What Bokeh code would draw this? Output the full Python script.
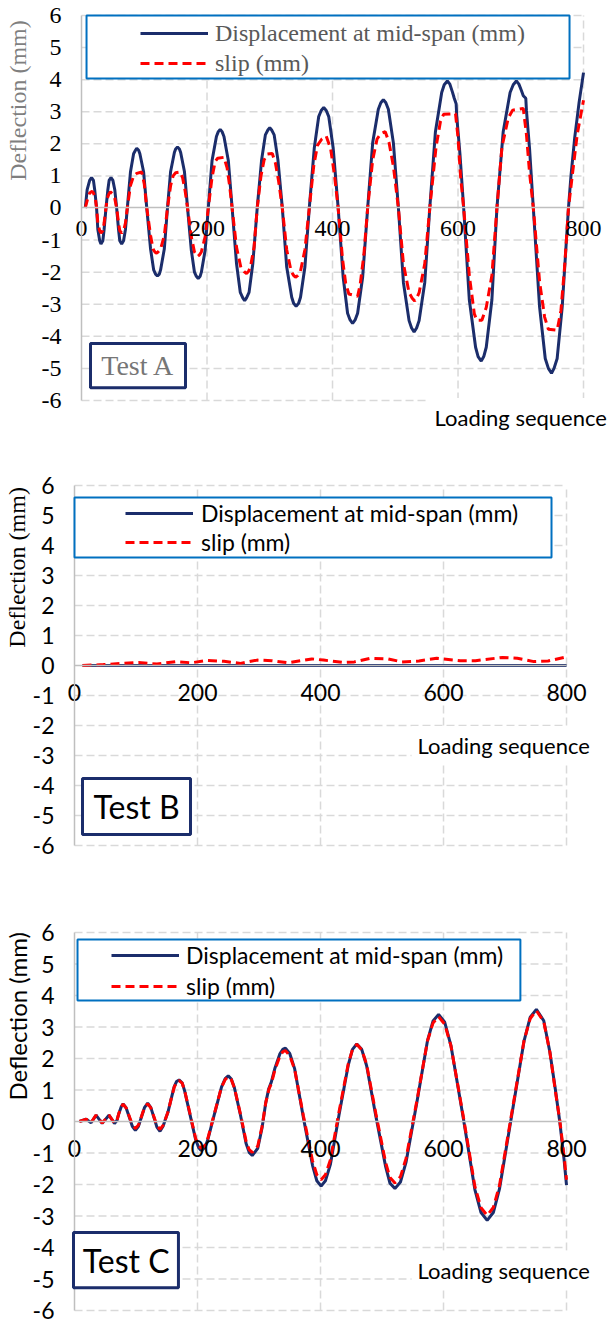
from math import pi
from bokeh.plotting import figure
from bokeh.models import Range1d, FixedTicker, Legend, LegendItem, Label, BoxAnnotation
from bokeh.layouts import column
from bokeh.embed import file_html
from bokeh.resources import INLINE

# ---------------- data ----------------
X_TICKS = [0, 200, 400, 600, 800]
X_TICK_LABELS = ["0", "200", "400", "600", "800"]
Y_TICKS = [-6, -5, -4, -3, -2, -1, 0, 1, 2, 3, 4, 5, 6]
Y_TICK_LABELS = ["-6", "-5", "-4", "-3", "-2", "-1", "0", "1", "2", "3", "4", "5", "6"]
SERIES = ["Displacement at mid-span (mm)", "slip (mm)"]
X_TITLE = "Loading sequence"
Y_TITLE = "Deflection (mm)"
PANELS = ["Test A", "Test B", "Test C"]

# Test A
a_disp_x = [6, 9, 13, 16, 19, 21, 24, 26, 29, 31, 34, 36, 39, 42, 44, 47, 50, 53,
            56, 59, 61, 64, 67, 70,
            73, 78, 83, 86, 88, 91, 93, 99,
            104, 110, 115, 118, 121, 124, 126, 132,
            137, 142, 148, 150, 153, 156, 158, 164,
            169, 175, 180, 183, 186, 189, 191, 197,
            202, 208, 215, 218, 221, 224, 227, 234,
            240, 247, 253, 257, 260, 263, 267, 273,
            280, 287, 293, 297, 300, 303, 307, 313,
            320, 327, 335, 338, 342, 346, 349, 356,
            363, 371, 378, 382, 386, 390, 394, 401,
            409, 417, 424, 428, 432, 436, 440, 448,
            456, 464, 473, 477, 481, 485, 489, 497,
            505, 513, 522, 526, 530, 534, 538, 547,
            555, 564, 574, 578, 583, 587, 591, 594, 597, 598, 603,
            609, 618, 628, 632, 637, 641, 645, 654,
            662, 672, 683, 688, 693, 697, 701, 704, 708, 709, 714,
            720, 730, 739, 744, 749, 753, 758, 766,
            776, 780, 786, 793, 800]
a_disp_y = [0, .57, .86, .95, .86, .57, 0, -.67, -1.02, -1.12, -1.02, -.67, 0, .57, .86, .95, .86, .57,
            0, -.67, -1.02, -1.12, -1.02, -.67,
            0, 1.12, 1.69, 1.8, 1.86, 1.8, 1.69, 1.12,
            0, -1.27, -1.93, -2.06, -2.12, -2.06, -1.93, -1.27,
            0, 1.14, 1.73, 1.84, 1.9, 1.84, 1.73, 1.14,
            0, -1.32, -2.0, -2.13, -2.2, -2.13, -2.0, -1.32,
            0, 1.47, 2.23, 2.38, 2.45, 2.38, 2.23, 1.47,
            0, -1.73, -2.63, -2.8, -2.89, -2.8, -2.63, -1.73,
            0, 1.5, 2.28, 2.43, 2.5, 2.43, 2.28, 1.5,
            0, -1.84, -2.78, -2.97, -3.06, -2.97, -2.78, -1.84,
            0, 1.88, 2.85, 3.04, 3.13, 3.04, 2.85, 1.88,
            0, -2.16, -3.28, -3.49, -3.6, -3.49, -3.28, -2.16,
            0, 2.03, 3.08, 3.28, 3.38, 3.28, 3.08, 2.03,
            0, -2.32, -3.51, -3.74, -3.86, -3.74, -3.51, -2.32,
            0, 2.38, 3.6, 3.84, 3.96, 3.86, 3.62, 3.42, 3.25, 2.85, 1.7,
            0, -2.86, -4.34, -4.63, -4.77, -4.63, -4.34, -2.86,
            0, 2.38, 3.6, 3.84, 3.96, 3.86, 3.66, 3.5, 3.42, 3.05, 1.85,
            0, -3.09, -4.69, -5.0, -5.15, -5.0, -4.69, -3.09,
            0, 1.0, 2.2, 3.3, 4.22]
a_slip_x = [6, 10, 13, 17, 19, 22, 24, 26, 29, 31, 34, 36, 39, 41, 44, 46, 49, 53,
            56, 59, 61, 64, 67, 70, 73, 78, 83, 88, 96, 100,
            104, 110, 114, 117, 119, 122, 126, 132,
            137, 142, 146, 150, 157, 161, 165,
            169, 175, 180, 183, 185, 188, 191, 197,
            202, 208, 213, 217, 227, 232, 236,
            240, 247, 254, 259, 263, 266, 269, 275,
            280, 286, 291, 296, 304, 309, 314,
            320, 327, 334, 338, 341, 345, 349, 356,
            363, 370, 376, 383, 390, 397, 403, 409, 416, 421, 426, 440, 444, 450,
            456, 464, 471, 477, 484, 490, 497,
            505, 513, 522, 527, 531, 534, 538, 547,
            555, 565, 572, 577, 596, 600, 604, 609, 618, 626, 630, 638, 645, 654,
            662, 670, 680, 687, 704, 709, 714, 720, 730, 738, 744, 758, 764, 770,
            776, 782, 790, 800]
a_slip_y = [0, .31, .47, .52, .47, .31, 0, -.47, -.71, -.78, -.71, -.47, 0, .3, .45, .5, .45, .3,
            0, -.47, -.71, -.78, -.71, -.47, 0, .7, 1.0, 1.08, 1.12, .75,
            0, -.85, -1.28, -1.37, -1.41, -1.37, -1.28, -.85,
            0, .7, 1.0, 1.1, 1.12, .95, .55,
            0, -.9, -1.37, -1.46, -1.51, -1.46, -1.37, -.9,
            0, .95, 1.45, 1.55, 1.58, 1.25, .7,
            0, -1.22, -1.86, -1.98, -2.04, -1.98, -1.86, -1.22,
            0, 1.0, 1.5, 1.68, 1.7, 1.4, .85,
            0, -1.3, -1.97, -2.1, -2.16, -2.1, -1.97, -1.3,
            0, 1.3, 1.95, 2.15, 2.24, 1.85, 1.05, 0, -1.6, -2.35, -2.68, -2.75, -2.4, -1.45,
            0, 1.5, 2.15, 2.32, 2.38, 2.05, 1.3,
            0, -1.74, -2.64, -2.81, -2.9, -2.81, -2.64, -1.74,
            0, 1.9, 2.7, 2.92, 2.94, 2.2, 1.0, 0, -2.1, -3.3, -3.5, -3.5, -3.1, -2.1,
            0, 1.9, 2.8, 3.05, 3.1, 2.3, 1.1, 0, -2.3, -3.4, -3.78, -3.81, -3.2, -1.8,
            0, 1.0, 2.3, 3.36]

# Test B
b_disp_x = [13, 800]
b_disp_y = [0.0, 0.0]
b_slip_x = [13, 47, 77, 104, 134, 165, 190, 216, 243, 270, 297, 321, 348, 386, 405,
            437, 455, 481, 510, 532, 560, 589, 627, 652, 696, 720, 747, 770, 800]
b_slip_y = [0, 0.03, 0.07, 0.1, 0.05, 0.13, 0.09, 0.17, 0.14, 0.07, 0.18, 0.16, 0.09, 0.22, 0.18,
            0.1, 0.12, 0.24, 0.22, 0.12, 0.15, 0.24, 0.16, 0.16, 0.27, 0.24, 0.13, 0.15, 0.29]

# Test C
c_x = [8, 19, 27, 35, 45, 56, 65, 69, 72, 76, 79, 84, 89, 94, 99, 104, 109, 114, 119,
       124, 129, 134, 139, 144, 148, 152, 157, 162, 166, 170,
       175, 179, 188, 197, 202, 206, 212, 217, 228, 239, 245, 250,
       255, 260, 270, 279, 284, 289, 298, 305, 311, 316, 320, 326, 334, 339, 343,
       350, 358, 372, 387, 394, 401, 408, 416, 430, 445, 452, 459,
       467, 475, 490, 506, 513, 521, 530, 539, 557, 574, 583, 592,
       602, 612, 632, 651, 661, 671, 681, 691, 711, 731, 741, 751,
       763, 773, 782, 789, 796, 800]
c_disp_y = [0, 0.07, -0.04, 0.2, -0.06, 0.2, -0.06, 0.03, 0.25, 0.47, 0.56, 0.43, 0.14, -0.15, -0.28,
            -0.15, 0.15, 0.45, 0.58, 0.45, 0.14, -0.18, -0.31,
            -0.15, 0.08, 0.3, 0.7, 1.1, 1.27, 1.32,
            1.23, 0.98, 0.2, -0.58, -0.83, -0.92, -0.83, -0.56, 0.27, 1.09, 1.36, 1.45,
            1.35, 1.07, 0.19, -0.7, -0.98, -1.08, -0.85, -0.2, 0.6, 1.05, 1.25, 1.7, 2.15, 2.3, 2.33,
            2.16, 1.67, 0.14, -1.39, -1.88, -2.05, -1.88, -1.37, 0.2, 1.78, 2.29, 2.46,
            2.29, 1.77, 0.17, -1.44, -1.96, -2.13, -1.92, -1.3, 0.64, 2.57, 3.19, 3.4,
            3.15, 2.42, 0.13, -2.16, -2.89, -3.14, -2.89, -2.14, 0.21, 2.56, 3.31, 3.56,
            3.2, 2.2, 1.0, 0, -1.2, -2.02]
c_slip_y = [0, 0.07, -0.03, 0.2, -0.05, 0.2, -0.05, 0.04, 0.25, 0.46, 0.55, 0.43, 0.17, -0.1, -0.22,
            -0.11, 0.17, 0.45, 0.56, 0.44, 0.16, -0.13, -0.25,
            -0.12, 0.09, 0.3, 0.7, 1.08, 1.25, 1.3,
            1.22, 0.99, 0.23, -0.54, -0.77, -0.85, -0.76, -0.52, 0.29, 1.09, 1.33, 1.42,
            1.33, 1.07, 0.22, -0.63, -0.89, -0.98, -0.78, -0.15, 0.6, 1.02, 1.2, 1.65, 2.08, 2.22, 2.25,
            2.09, 1.65, 0.2, -1.25, -1.69, -1.85, -1.69, -1.22, 0.3, 1.82, 2.29, 2.45,
            2.28, 1.81, 0.25, -1.31, -1.78, -1.95, -1.75, -1.18, 0.69, 2.56, 3.13, 3.33,
            3.09, 2.41, 0.18, -2.06, -2.74, -2.98, -2.73, -2.03, 0.27, 2.57, 3.27, 3.52,
            3.17, 2.2, 0.95, 0.05, -1.1, -1.85]

# ---------------- style ----------------
NAVY = "#1B2D6B"
RED = "#FF0000"
LEG_BLUE = "#0070C0"
GRID = "#d9d9d9"
AXIS = "#bfbfbf"
SERIF = "Liberation Serif"
SANS = "Lato"
W = 609


def base_fig(height, xr, yr, font, size, xstand, ystand):
    p = figure(width=W, height=height, x_range=Range1d(*xr), y_range=Range1d(*yr),
               output_backend="svg", toolbar_location=None,
               min_border_left=0, min_border_right=0, min_border_top=0, min_border_bottom=0)
    p.outline_line_color = None
    p.background_fill_color = "white"
    p.border_fill_color = "white"
    p.grid.visible = False
    # dashed grid, limited to the 0..800 / -6..6 box
    gy = [t for t in Y_TICKS if t != 0]
    p.segment(x0=[X_TICKS[0]] * len(gy), x1=[X_TICKS[-1]] * len(gy), y0=gy, y1=gy,
              line_color=GRID, line_width=1.5, line_dash="8 4", level="underlay")
    gx = [t for t in X_TICKS if t != 0]
    p.segment(x0=gx, x1=gx, y0=[Y_TICKS[0]] * len(gx), y1=[Y_TICKS[-1]] * len(gx),
              line_color=GRID, line_width=1.5, line_dash="8 4", level="underlay")
    p.xaxis.fixed_location = 0
    p.yaxis.fixed_location = 0
    p.xaxis.bounds = (X_TICKS[0], X_TICKS[-1])
    p.yaxis.bounds = (Y_TICKS[0], Y_TICKS[-1])
    p.xaxis.ticker = FixedTicker(ticks=X_TICKS)
    p.yaxis.ticker = FixedTicker(ticks=Y_TICKS)
    p.xaxis.major_label_overrides = dict(zip(X_TICKS, X_TICK_LABELS))
    p.yaxis.major_label_overrides = dict(zip(Y_TICKS, Y_TICK_LABELS))
    for ax in (p.xaxis, p.yaxis):
        ax.axis_line_color = AXIS
        ax.axis_line_width = 1.5
        ax.major_tick_line_color = None
        ax.minor_tick_line_color = None
        ax.major_tick_out = 0
        ax.major_tick_in = 0
        ax.major_label_text_font = font
        ax.major_label_text_font_size = f"{size}px"
        ax.major_label_text_color = "black"
    p.xaxis.major_label_standoff = xstand
    p.yaxis.major_label_standoff = ystand
    return p


def add_series(p, dx, dy, sx, sy):
    r1 = p.line(dx, dy, line_color=NAVY, line_width=3)
    r2 = p.line(sx, sy, line_color=RED, line_width=3, line_dash="9 5")
    return r1, r2


def add_legend(p, r1, r2, box, loc, standoff, spacing, font, size, color):
    p.add_layout(BoxAnnotation(left=box[0], right=box[1], top=box[2], bottom=box[3],
                               fill_color="white", fill_alpha=1,
                               line_color=LEG_BLUE, line_alpha=1, line_width=2))
    leg = Legend(items=[LegendItem(label=SERIES[0], renderers=[r1]),
                        LegendItem(label=SERIES[1], renderers=[r2])],
                 location=loc, padding=0, margin=0, spacing=spacing,
                 glyph_width=68, glyph_height=28, label_height=28,
                 label_standoff=standoff, label_text_font=font,
                 label_text_font_size=f"{size}px", label_text_color=color,
                 border_line_alpha=0, background_fill_alpha=0)
    p.add_layout(leg)


def add_tag(p, text, box, cx, cy, font, size, color):
    p.add_layout(BoxAnnotation(left=box[0], right=box[1], top=box[2], bottom=box[3],
                               fill_color="white", fill_alpha=1,
                               line_color=NAVY, line_alpha=1, line_width=3))
    p.add_layout(Label(x=cx, y=cy, text=text, text_align="center", text_baseline="middle",
                       text_font=font, text_font_size=f"{size}px", text_color=color))


def add_titles(p, ylab, yfont, ycolor, xlab_pos):
    p.add_layout(Label(x=ylab[0], y=ylab[1], text=Y_TITLE, angle=pi / 2,
                       text_align="center", text_baseline="middle",
                       text_font=yfont, text_font_size="24px", text_color=ycolor))
    p.add_layout(Label(x=xlab_pos[0], y=xlab_pos[1], text=X_TITLE,
                       text_align="left", text_baseline="middle",
                       text_font=SANS, text_font_size="22px", text_color="black",
                       background_fill_color="white", background_fill_alpha=1, padding=6))


# ---------- Test A ----------  (0 -> x 81px, 800 -> 583px; 6 -> y 15px, -6 -> 400px)
pa = base_fig(440, (-129.1, 841.4), (-7.2468, 6.4675), SERIF, 24, 13, 20)
r1, r2 = add_series(pa, a_disp_x, a_disp_y, a_slip_x, a_slip_y)
add_legend(pa, r1, r2, (8, 777.7, 6, 4.04), (140, 363), 7, 2, SERIF, 24, "#595959")
add_tag(pa, PANELS[0], (14.3, 165.7, -4.22, -5.6), 90, -4.91, SERIF, 28, "#767676")
add_titles(pa, (-102, 3.35), SERIF, "#7f7f7f", (553, -6.53))

# ---------- Test B ----------
pb = base_fig(460, (-120.33, 869.9), (-7.8333, 7.5), SANS, 23, 18, 20)
r1, r2 = add_series(pb, b_disp_x, b_disp_y, b_slip_x, b_slip_y)
add_legend(pb, r1, r2, (0, 775.6, 5.6, 3.6), (125, 344), 8, 1, SANS, 23, "black")
add_tag(pb, PANELS[1], (13, 188.6, -3.77, -5.63), 101, -4.7, SANS, 32, "black")
add_titles(pb, (-92.7, 3.27), SERIF, "black", (548, -2.67))

# ---------- Test C ----------
pc = base_fig(425, (-120.33, 869.9), (-6.476, 7.0159), SANS, 23, 18, 20)
r1, r2 = add_series(pc, c_x, c_disp_y, c_x, c_slip_y)
add_legend(pc, r1, r2, (4.9, 725, 5.78, 3.84), (111, 325), 7, 3, SANS, 23, "black")
add_tag(pc, PANELS[2], (-1.6, 169, -3.52, -5.28), 84, -4.4, SANS, 32, "black")
add_titles(pc, (-92.7, 3.34), SANS, "black", (548, -4.72))

layout = column(pa, pb, pc, spacing=0)
open("out.html", "w").write(file_html(layout, INLINE))
